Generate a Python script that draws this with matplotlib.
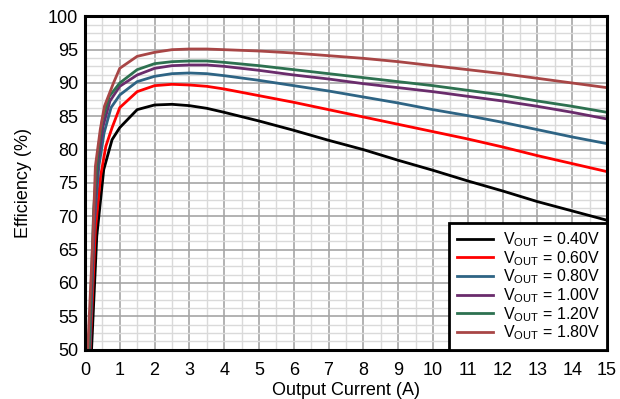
import matplotlib
matplotlib.use("Agg")
import matplotlib.pyplot as plt
from matplotlib.ticker import MultipleLocator

plt.rcParams['font.family'] = ['Liberation Sans', 'DejaVu Sans']
plt.rcParams['mathtext.fontset'] = 'custom'
plt.rcParams['mathtext.rm'] = 'Liberation Sans'

# Output current (A) and efficiency (%) per output voltage
i_040 = [0.19, 0.34, 0.44, 0.54, 0.78, 1.0, 1.5, 2, 2.5, 3, 3.5, 4, 5, 6, 7, 8, 9, 10, 11, 12, 13, 14, 15]
e_040 = [50, 67, 72, 77, 81.5, 83.3, 86.0, 86.7, 86.8, 86.6, 86.2, 85.6, 84.3, 82.9, 81.4, 80.0, 78.4, 76.9, 75.3, 73.8, 72.2, 70.8, 69.4]

i_060 = [0.15, 0.3, 0.45, 0.6, 0.78, 1.0, 1.5, 2, 2.5, 3, 3.5, 4, 5, 6, 7, 8, 9, 10, 11, 12, 13, 14, 15]
e_060 = [50, 68, 76, 80.5, 83.3, 86.3, 88.7, 89.6, 89.8, 89.7, 89.5, 89.1, 88.1, 87.1, 86.0, 84.9, 83.8, 82.7, 81.6, 80.4, 79.1, 77.9, 76.7]

i_080 = [0.14, 0.27, 0.4, 0.55, 0.75, 1.0, 1.5, 2, 2.5, 3, 3.5, 4, 5, 6, 7, 8, 9, 10, 11, 12, 13, 14, 15]
e_080 = [50, 69, 77.5, 82.5, 86.3, 88.2, 90.2, 91.0, 91.4, 91.5, 91.4, 91.1, 90.4, 89.6, 88.8, 87.9, 87.0, 86.0, 85.1, 84.1, 83.0, 81.9, 80.9]

i_100 = [0.13, 0.26, 0.38, 0.52, 0.72, 1.0, 1.5, 2, 2.5, 3, 3.5, 4, 5, 6, 7, 8, 9, 10, 11, 12, 13, 14, 15]
e_100 = [50, 70, 78.5, 83.5, 87.3, 89.5, 91.2, 92.2, 92.6, 92.7, 92.7, 92.5, 91.9, 91.2, 90.6, 89.9, 89.3, 88.7, 88.0, 87.3, 86.5, 85.6, 84.6]

i_120 = [0.12, 0.25, 0.37, 0.5, 0.7, 1.0, 1.5, 2, 2.5, 3, 3.5, 4, 5, 6, 7, 8, 9, 10, 11, 12, 13, 14, 15]
e_120 = [50, 71, 79.5, 84.5, 88.0, 90.0, 92.0, 92.9, 93.2, 93.3, 93.3, 93.1, 92.6, 92.0, 91.4, 90.8, 90.2, 89.6, 88.9, 88.2, 87.3, 86.5, 85.6]

i_180 = [0.08, 0.23, 0.3, 0.44, 0.56, 0.82, 1.0, 1.5, 2, 2.5, 3, 3.5, 4, 5, 6, 7, 8, 9, 10, 11, 12, 13, 14, 15]
e_180 = [50, 67, 77.5, 83, 86.5, 90.0, 92.2, 94.0, 94.6, 95.0, 95.1, 95.1, 95.0, 94.8, 94.5, 94.1, 93.7, 93.2, 92.6, 92.0, 91.4, 90.7, 90.0, 89.3]

series_labels = ['0.40V', '0.60V', '0.80V', '1.00V', '1.20V', '1.80V']
series_colors = ['#000000', '#FF0000', '#2E6484', '#6A2C6C', '#2D7150', '#A84646']
series_x = [i_040, i_060, i_080, i_100, i_120, i_180]
series_y = [e_040, e_060, e_080, e_100, e_120, e_180]

fig = plt.figure(figsize=(6.2, 3.99), dpi=100)
ax = fig.add_axes([0.137, 0.124, 0.842, 0.835])

for xs, ys, lab, col in zip(series_x, series_y, series_labels, series_colors):
    ax.plot(xs, ys, color=col, lw=2.0, label=r'V$_{\mathrm{OUT}}$ = ' + lab,
            solid_joinstyle='round', zorder=3)

ax.set_xlim(0, 15)
ax.set_ylim(50, 100)
ax.xaxis.set_major_locator(MultipleLocator(1))
ax.xaxis.set_minor_locator(MultipleLocator(0.5))
ax.yaxis.set_major_locator(MultipleLocator(5))
ax.yaxis.set_minor_locator(MultipleLocator(1.25))

ax.grid(which='minor', color='#DADADA', lw=1.0, zorder=0)
ax.grid(which='major', color='#A6A6A6', lw=1.2, zorder=1)
ax.set_axisbelow(True)

ax.tick_params(which='both', length=0)
ax.tick_params(axis='x', pad=9, labelsize=13)
ax.tick_params(axis='y', pad=5, labelsize=13)

for s in ax.spines.values():
    s.set_linewidth(2.2)
    s.set_color('black')
    s.set_zorder(5)

ax.set_xlabel('Output Current (A)', fontsize=13, labelpad=2)
ax.set_ylabel('Efficiency (%)', fontsize=13, labelpad=11)

leg = ax.legend(loc='lower right', bbox_to_anchor=(1.0, 0.0), borderaxespad=0,
                fancybox=False, edgecolor='black', framealpha=1, fontsize=11.5,
                handlelength=2.3, handletextpad=0.6, labelspacing=0.0,
                borderpad=0.45)
leg.get_frame().set_linewidth(2.0)
leg.set_zorder(6)

fig.savefig('out.png', dpi=100)
